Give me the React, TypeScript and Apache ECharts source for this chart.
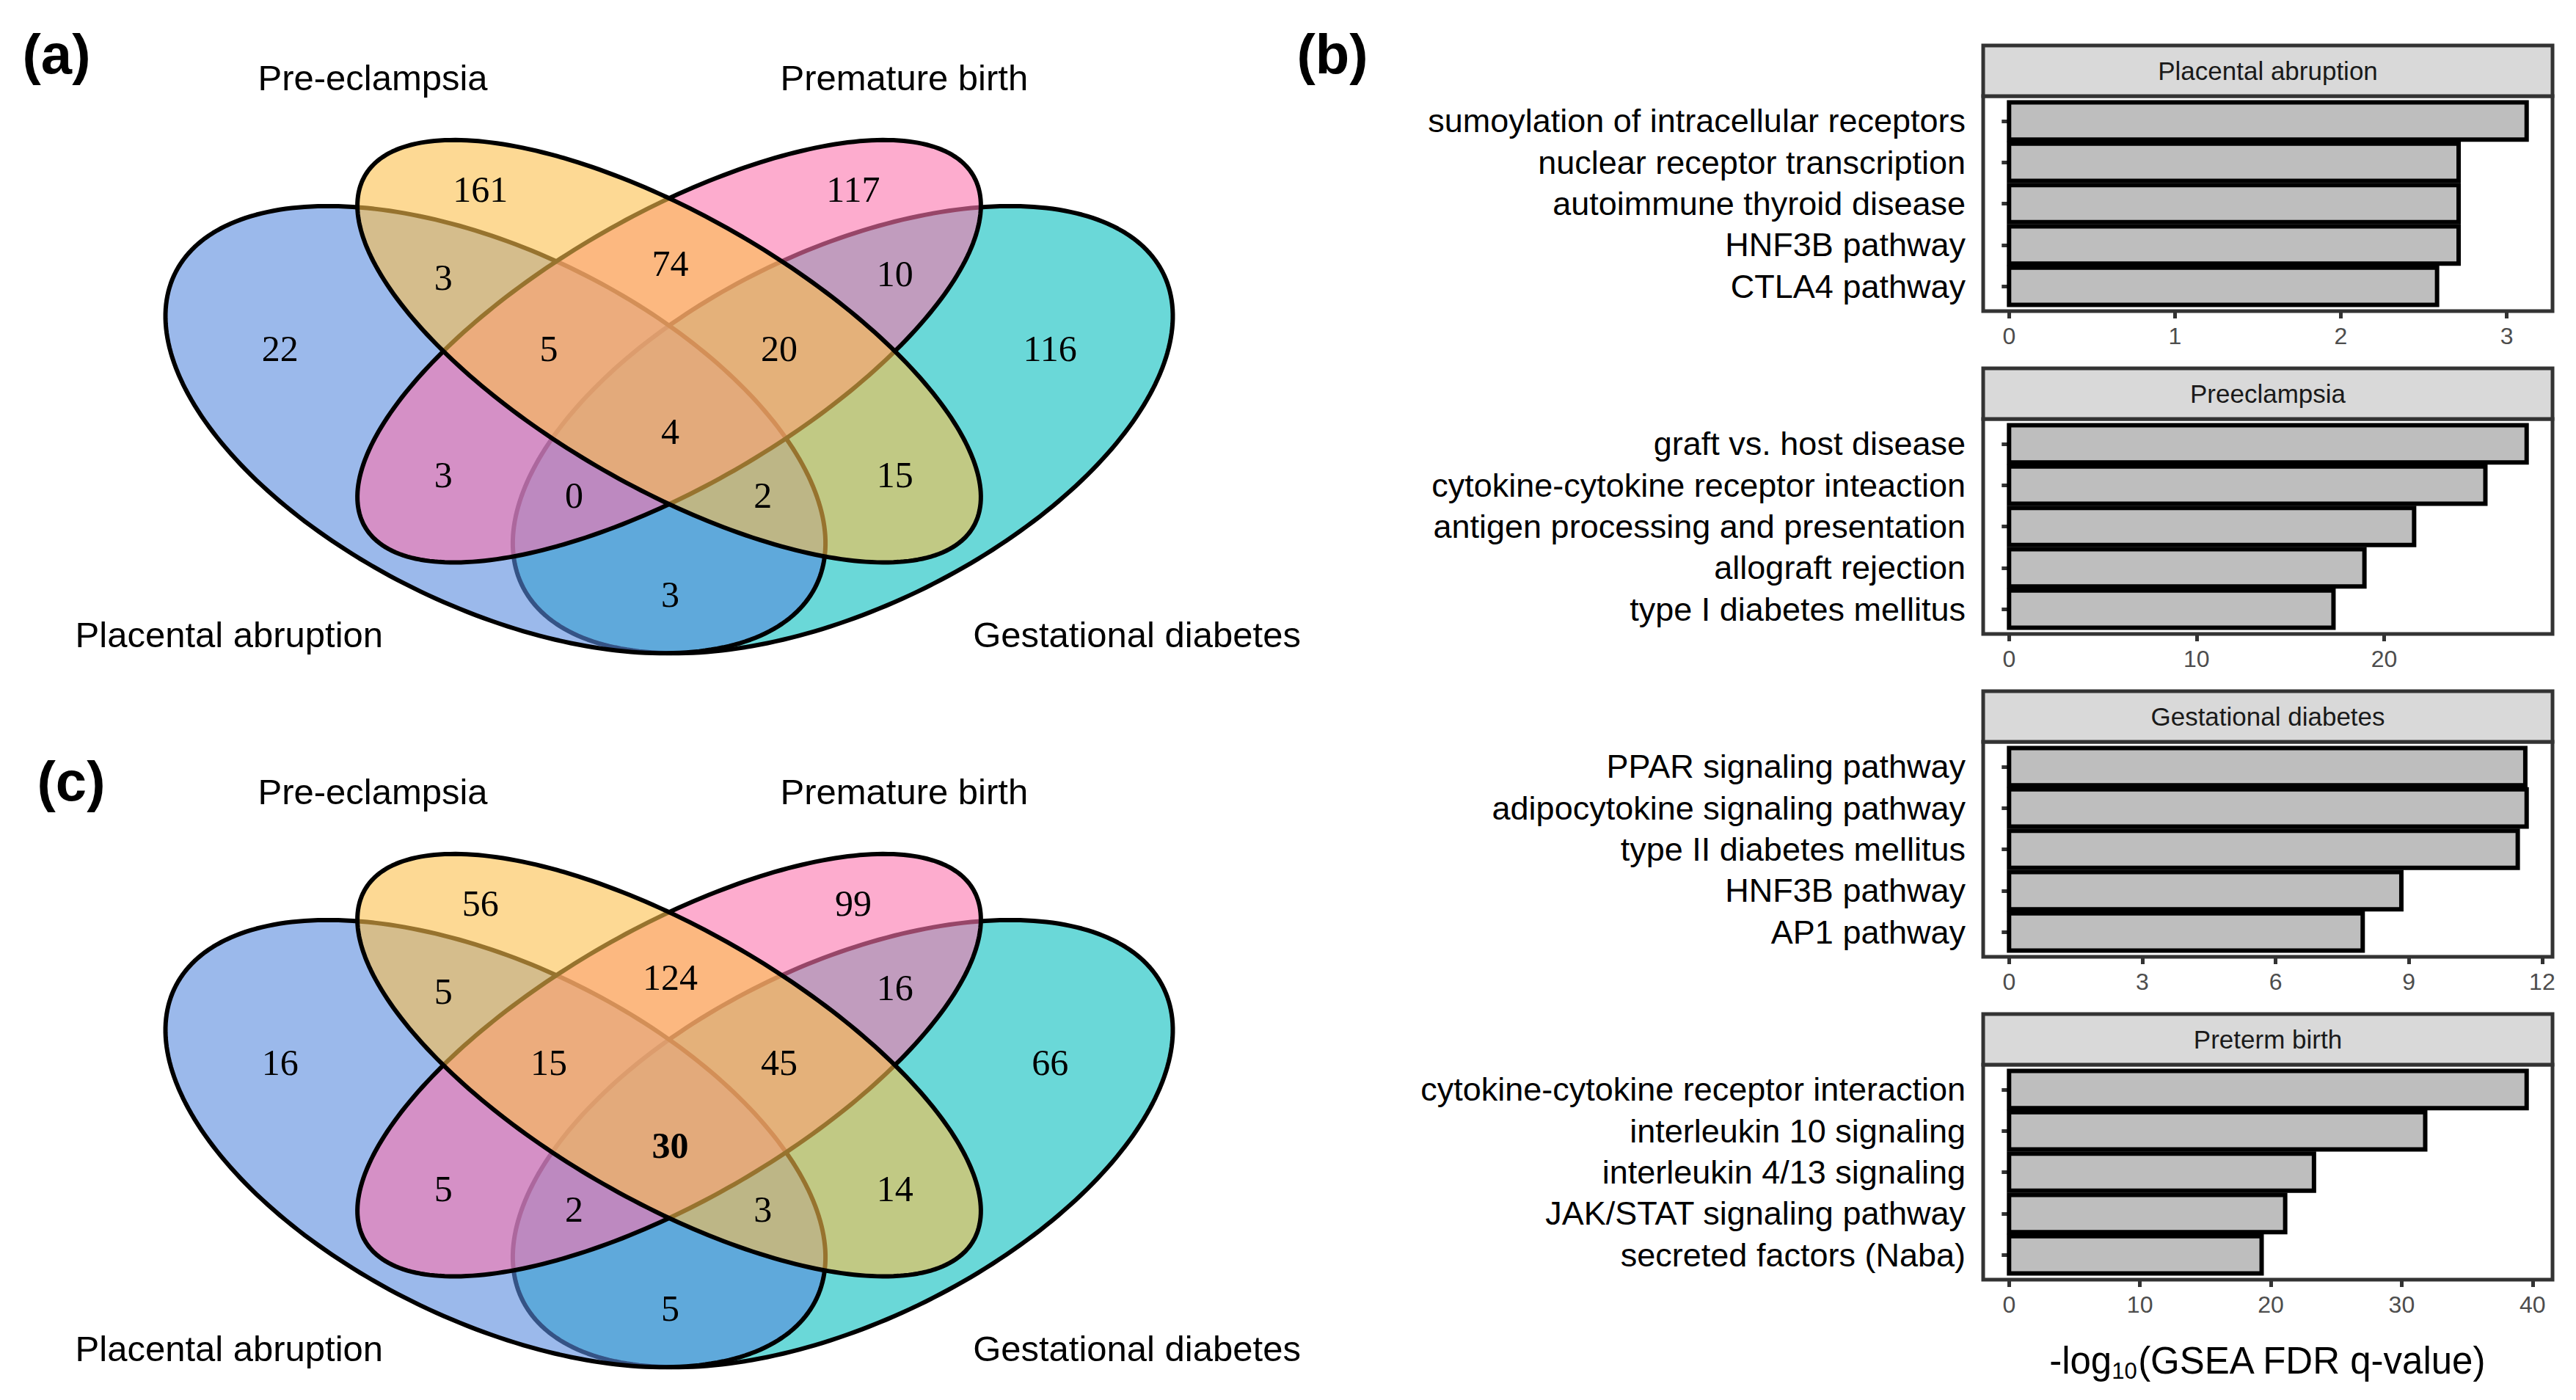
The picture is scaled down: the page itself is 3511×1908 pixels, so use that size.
import React, { useEffect, useRef } from "react";
import * as echarts from "echarts";

const SANS = '"Liberation Sans", Arial, Helvetica, sans-serif';
const SERIF = '"Liberation Serif", "Times New Roman", serif';

// ---------------- data ----------------
const VENN_SETS = ["Placental abruption", "Pre-eclampsia", "Premature birth", "Gestational diabetes"];
// region keys: A = Placental abruption, B = Pre-eclampsia, C = Premature birth, D = Gestational diabetes
const VENN_REGIONS = ["B", "C", "AB", "BC", "CD", "A", "ABC", "BCD", "D", "ABCD", "AC", "BD", "ACD", "ABD", "AD"];
const VENN_A_COUNTS = [161, 117, 3, 74, 10, 22, 5, 20, 116, 4, 3, 15, 0, 2, 3];
const VENN_C_COUNTS = [56, 99, 5, 124, 16, 16, 15, 45, 66, 30, 5, 14, 2, 3, 5];
const VENN_C_BOLD = "ABCD";

const FACET_TITLES = ["Placental abruption", "Preeclampsia", "Gestational diabetes", "Preterm birth"];

const PA_TERMS = [
  "sumoylation of intracellular receptors",
  "nuclear receptor transcription",
  "autoimmune thyroid disease",
  "HNF3B pathway",
  "CTLA4 pathway",
];
const PA_VALUES = [3.12, 2.71, 2.71, 2.71, 2.58];
const PA_TICKS = [0, 1, 2, 3];

const PE_TERMS = [
  "graft vs. host disease",
  "cytokine-cytokine receptor inteaction",
  "antigen processing and presentation",
  "allograft rejection",
  "type I diabetes mellitus",
];
const PE_VALUES = [27.6, 25.4, 21.6, 18.95, 17.3];
const PE_TICKS = [0, 10, 20];

const GD_TERMS = [
  "PPAR signaling pathway",
  "adipocytokine signaling pathway",
  "type II diabetes mellitus",
  "HNF3B pathway",
  "AP1 pathway",
];
const GD_VALUES = [11.62, 11.65, 11.45, 8.83, 7.96];
const GD_TICKS = [0, 3, 6, 9, 12];

const PB_TERMS = [
  "cytokine-cytokine receptor interaction",
  "interleukin 10 signaling",
  "interleukin 4/13 signaling",
  "JAK/STAT signaling pathway",
  "secreted factors (Naba)",
];
const PB_VALUES = [39.55, 31.8, 23.3, 21.1, 19.3];
const PB_TICKS = [0, 10, 20, 30, 40];

const PANEL_LABELS = ["(a)", "(b)", "(c)"];

// ---------------- layout ----------------
const VENN_ELLIPSES = [
  { cx: 0.35, cy: 0.47, a: 0.35, b: 0.2, angle: 135 },
  { cx: 0.5, cy: 0.57, a: 0.35, b: 0.15, angle: 135 },
  { cx: 0.5, cy: 0.57, a: 0.35, b: 0.15, angle: 45 },
  { cx: 0.65, cy: 0.47, a: 0.35, b: 0.2, angle: 45 },
];
const VENN_FILLS = [
  "rgba(88,138,222,0.6)",
  "rgba(252,192,77,0.6)",
  "rgba(252,117,173,0.6)",
  "rgba(7,190,190,0.6)",
];
const VENN_DRAW_ORDER = [3, 0, 2, 1];
const REGION_POS: Record<string, number[]> = {
  B: [0.337, 0.776],
  C: [0.659, 0.776],
  AB: [0.305, 0.664],
  BC: [0.501, 0.682],
  CD: [0.695, 0.669],
  A: [0.164, 0.573],
  ABC: [0.396, 0.573],
  BCD: [0.595, 0.573],
  D: [0.829, 0.573],
  ABCD: [0.501, 0.468],
  AC: [0.305, 0.413],
  BD: [0.695, 0.413],
  ACD: [0.418, 0.386],
  ABD: [0.581, 0.386],
  AD: [0.501, 0.26],
};
const SET_LABEL_POS = [
  [0.12, 0.209],
  [0.244, 0.919],
  [0.703, 0.919],
  [0.904, 0.209],
];
// the Venn viewport spans y = VENN_YMIN..1 (npc), 1069 px per unit
const VENN_YMIN = 0.16;
const VENN_UNIT_H = 1069;
const VENN_GRIDS = [
  { left: 123, top: 19, width: 1578 },
  { left: 123, top: 992, width: 1578 },
];
const PANEL_LABEL_POS = [
  [77, 73],
  [1816, 73],
  [97, 1064],
];
const FACET = { left: 2703, width: 776, firstTop: 131, step: 440, panelH: 293, stripH: 69 };

function buildOption() {
  const grids: any[] = [];
  const xAxes: any[] = [];
  const yAxes: any[] = [];
  const series: any[] = [];
  const graphics: any[] = [];

  // ---- Venn panels ----
  const vennCounts = [VENN_A_COUNTS, VENN_C_COUNTS];
  VENN_GRIDS.forEach((g, pi) => {
    grids.push({ ...g, height: VENN_UNIT_H * (1 - VENN_YMIN), show: false });
    xAxes.push({ type: "value", gridIndex: pi, min: 0, max: 1, show: false });
    yAxes.push({ type: "value", gridIndex: pi, min: VENN_YMIN, max: 1, show: false });

    series.push({
      type: "custom",
      xAxisIndex: pi,
      yAxisIndex: pi,
      silent: true,
      clip: false,
      data: VENN_DRAW_ORDER.map((s) => [s, 0.5]),
      renderItem: (params: any, api: any) => {
        const s = VENN_DRAW_ORDER[params.dataIndex];
        const e = VENN_ELLIPSES[s];
        const phi = (e.angle * Math.PI) / 180;
        const pts: number[][] = [];
        const N = 260;
        for (let k = 0; k < N; k++) {
          const t = (2 * Math.PI * k) / N;
          const x = e.cx + e.a * Math.cos(t) * Math.cos(phi) - e.b * Math.sin(t) * Math.sin(phi);
          const y = e.cy + e.a * Math.cos(t) * Math.sin(phi) + e.b * Math.sin(t) * Math.cos(phi);
          pts.push(api.coord([x, y]));
        }
        return {
          type: "polygon",
          shape: { points: pts },
          style: { fill: VENN_FILLS[s], stroke: "#000", lineWidth: 6, lineJoin: "round" },
        };
      },
      z: 2,
    });

    const counts = vennCounts[pi];
    series.push({
      type: "custom",
      xAxisIndex: pi,
      yAxisIndex: pi,
      silent: true,
      clip: false,
      data: VENN_REGIONS.map((r, i) => [REGION_POS[r][0], REGION_POS[r][1], counts[i]]),
      renderItem: (params: any, api: any) => {
        const r = VENN_REGIONS[params.dataIndex];
        const p = api.coord([api.value(0), api.value(1)]);
        const bold = pi === 1 && r === VENN_C_BOLD;
        return {
          type: "text",
          x: p[0],
          y: p[1],
          style: {
            text: String(api.value(2)),
            fill: "#000",
            fontSize: 50,
            fontFamily: SERIF,
            fontWeight: bold ? "bold" : "normal",
            align: "center",
            verticalAlign: "middle",
            textAlign: "center",
            textVerticalAlign: "middle",
          },
        };
      },
      z: 5,
    });

    series.push({
      type: "custom",
      xAxisIndex: pi,
      yAxisIndex: pi,
      silent: true,
      clip: false,
      data: VENN_SETS.map((n, i) => [SET_LABEL_POS[i][0], SET_LABEL_POS[i][1]]),
      renderItem: (params: any, api: any) => {
        const p = api.coord([api.value(0), api.value(1)]);
        return {
          type: "text",
          x: p[0],
          y: p[1],
          style: {
            text: VENN_SETS[params.dataIndex],
            fill: "#000",
            fontSize: 49,
            fontFamily: SANS,
            align: "center",
            verticalAlign: "middle",
            textAlign: "center",
            textVerticalAlign: "middle",
          },
        };
      },
      z: 5,
    });
  });

  // ---- Bar facets ----
  const facets = [
    { terms: PA_TERMS, values: PA_VALUES, ticks: PA_TICKS },
    { terms: PE_TERMS, values: PE_VALUES, ticks: PE_TICKS },
    { terms: GD_TERMS, values: GD_VALUES, ticks: GD_TICKS },
    { terms: PB_TERMS, values: PB_VALUES, ticks: PB_TICKS },
  ];
  facets.forEach((f, i) => {
    const gi = 2 + i;
    const top = FACET.firstTop + i * FACET.step;
    const M = Math.max(...f.values);
    grids.push({
      left: FACET.left,
      top,
      width: FACET.width,
      height: FACET.panelH,
      show: true,
      borderColor: "#333333",
      borderWidth: 5,
      backgroundColor: "#ffffff",
    });
    xAxes.push({
      type: "value",
      gridIndex: gi,
      min: -0.05 * M,
      max: 1.05 * M,
      axisLine: { show: false },
      splitLine: { show: false },
      axisTick: { show: true, customValues: f.ticks, length: 10, lineStyle: { color: "#333333", width: 5 } },
      axisLabel: { customValues: f.ticks, color: "#4D4D4D", fontSize: 32, fontFamily: SANS, margin: 18 },
    });
    const cats = f.terms.map((_, k) => k + 1);
    yAxes.push({
      type: "value",
      gridIndex: gi,
      min: 0.4,
      max: 5.6,
      inverse: true,
      axisLine: { show: false },
      splitLine: { show: false },
      axisTick: { show: true, customValues: cats, length: 10, lineStyle: { color: "#333333", width: 5 } },
      axisLabel: {
        customValues: cats,
        formatter: (v: number) => f.terms[Math.round(v) - 1] || "",
        color: "#000",
        fontSize: 45,
        fontFamily: SANS,
        margin: 24,
        padding: [0, 0, 14, 0],
      },
    });
    series.push({
      type: "custom",
      xAxisIndex: gi,
      yAxisIndex: gi,
      silent: true,
      encode: { x: 0, y: 1 },
      data: f.values.map((v, k) => [v, k + 1]),
      renderItem: (params: any, api: any) => {
        const v = api.value(0);
        const r = api.value(1);
        const p0 = api.coord([0, r - 0.45]);
        const p1 = api.coord([v, r + 0.45]);
        return {
          type: "rect",
          shape: {
            x: p0[0],
            y: Math.min(p0[1], p1[1]),
            width: p1[0] - p0[0],
            height: Math.abs(p1[1] - p0[1]),
          },
          style: { fill: "#BEBEBE", stroke: "#000", lineWidth: 6 },
        };
      },
      z: 3,
    });

    // strip
    graphics.push({
      type: "rect",
      shape: { x: FACET.left, y: top - FACET.stripH, width: FACET.width, height: FACET.stripH },
      style: { fill: "#D9D9D9", stroke: "#333333", lineWidth: 5 },
      z: 10,
    });
    graphics.push({
      type: "text",
      x: FACET.left + FACET.width / 2,
      y: top - FACET.stripH / 2,
      style: {
        text: FACET_TITLES[i],
        fill: "#1A1A1A",
        fontSize: 35,
        fontFamily: SANS,
        align: "center",
        verticalAlign: "middle",
        textAlign: "center",
        textVerticalAlign: "middle",
      },
      z: 11,
    });
  });

  // x-axis title
  const lastTop = FACET.firstTop + 3 * FACET.step;
  graphics.push({
    type: "text",
    x: FACET.left + FACET.width / 2,
    y: lastTop + FACET.panelH + 110,
    style: {
      text: "{m|-log}{s|10}{m|(GSEA FDR q-value)}",
      align: "center",
      verticalAlign: "middle",
      textAlign: "center",
      textVerticalAlign: "middle",
      rich: {
        m: { fontSize: 51, fontFamily: SANS, fill: "#000", color: "#000", lineHeight: 60 },
        s: { fontSize: 31, fontFamily: SANS, fill: "#000", color: "#000", lineHeight: 24, verticalAlign: "bottom" },
      },
    },
    z: 11,
  });

  // panel labels
  PANEL_LABELS.forEach((t, i) => {
    graphics.push({
      type: "text",
      x: PANEL_LABEL_POS[i][0],
      y: PANEL_LABEL_POS[i][1],
      style: {
        text: t,
        fill: "#000",
        fontSize: 76,
        fontWeight: "bold",
        fontFamily: SANS,
        align: "center",
        verticalAlign: "middle",
        textAlign: "center",
        textVerticalAlign: "middle",
      },
      z: 11,
    });
  });

  return {
    animation: false,
    backgroundColor: "#ffffff",
    grid: grids,
    xAxis: xAxes,
    yAxis: yAxes,
    series,
    graphic: graphics,
  };
}

export default function App() {
  const ref = useRef<HTMLDivElement>(null);
  useEffect(() => {
    document.body.style.margin = "0";
    document.body.style.overflow = "hidden";
    if (!ref.current) return;
    const chart = echarts.init(ref.current, undefined, { renderer: "svg" });
    chart.setOption(buildOption() as any);
    return () => chart.dispose();
  }, []);
  return (
    <div
      ref={ref}
      style={{ position: "fixed", left: 0, top: 0, width: 3511, height: 1908, background: "#fff" }}
    />
  );
}
